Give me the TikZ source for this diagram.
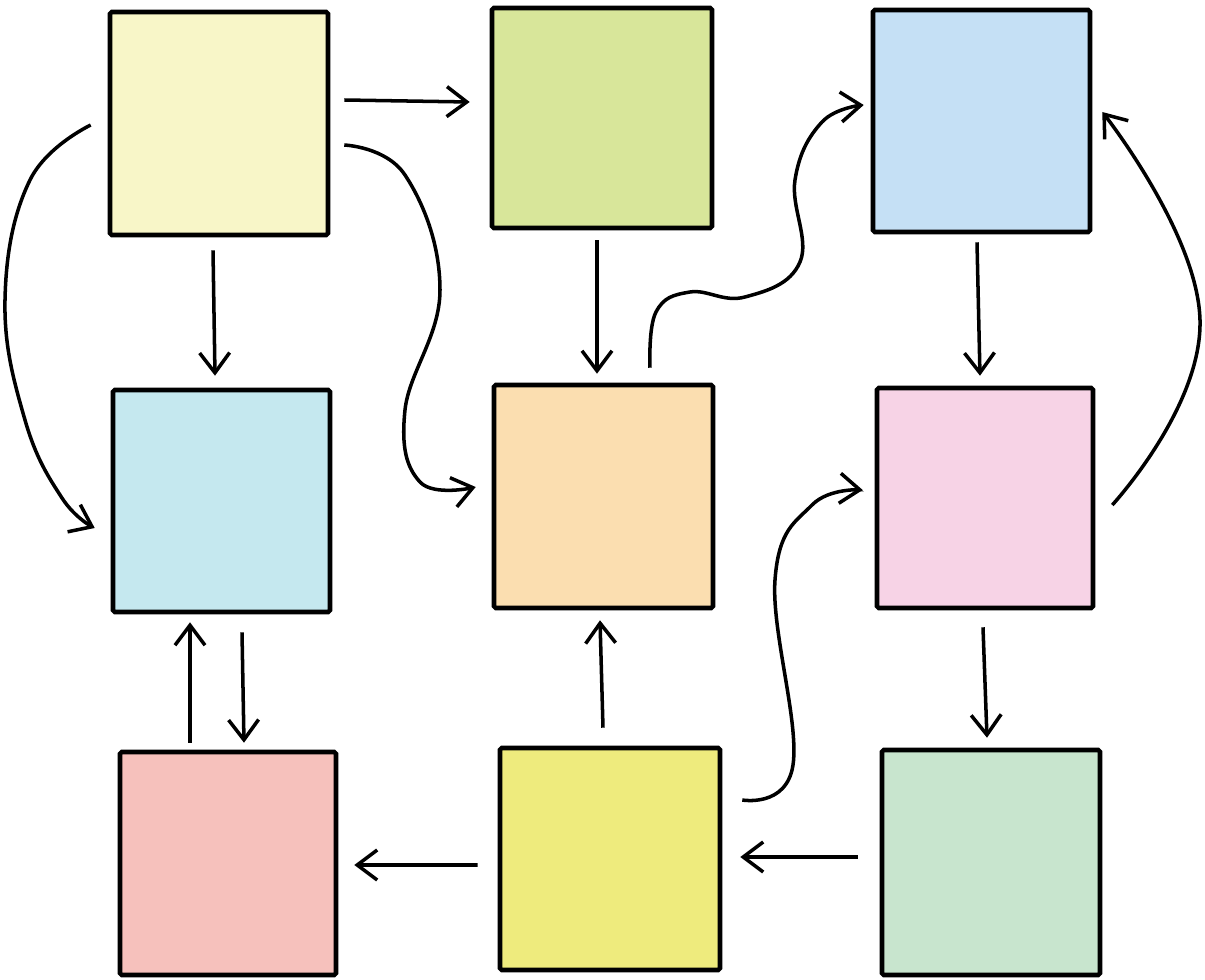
\documentclass[tikz,border=0pt]{standalone}
\usetikzlibrary{arrows.meta, calc}
\definecolor{paleyellow}{HTML}{F8F6C8}
\definecolor{palegreen}{HTML}{D8E69A}
\definecolor{paleblue}{HTML}{C5E0F5}
\definecolor{palecyan}{HTML}{C5E8EF}
\definecolor{paleorange}{HTML}{FBDEB0}
\definecolor{palepink}{HTML}{F7D3E6}
\definecolor{palered}{HTML}{F6C1BC}
\definecolor{lemon}{HTML}{EEEB7D}
\definecolor{sage}{HTML}{C8E5CE}
\tikzset{
    box/.style n args = {3}{draw=black, line width=2.6pt, fill=#1,
        minimum width=#2*0.02cm, minimum height=#3*0.02cm, inner sep=0pt,
        rounded corners=1pt},
    flow/.style = {-{Straight Barb[length=4mm,width=6mm]}, line width=2pt},
}
\begin{document}
\begin{tikzpicture}[x=0.02cm, y=-0.02cm]
        \useasboundingbox (0,0) rectangle (1205,980);
        % boxes
        \node [box={paleyellow}{218}{223}] (A) at (219,123.5) {};
        \node [box={palegreen}{220}{220}] (B) at (602,118) {};
        \node [box={paleblue}{217}{222}] (C) at (981.5,121) {};
        \node [box={palecyan}{217}{222}] (D) at (221.5,501) {};
        \node [box={paleorange}{219}{223}] (E) at (603.5,496.5) {};
        \node [box={palepink}{216}{220}] (F) at (985,498) {};
        \node [box={palered}{216}{223}] (G) at (228,863.5) {};
        \node [box={lemon}{220}{222}] (H) at (610,859) {};
        \node [box={sage}{218}{225}] (I) at (991,862.5) {};
        % straight arrows
        \draw [flow] ($(A.east)+(14,-23.5)$) -- ($(B.west)+(-20,-16)$);
        \draw [flow] ($(A.south)+(-6,13)$) -- ($(D.north)+(-6.5,-12)$);
        \draw [flow] ($(B.south)+(-5,10)$) -- ($(E.north)+(-6.5,-9)$);
        \draw [flow] ($(C.south)+(-4.5,8)$) -- ($(F.north)+(-5,-10)$);
        \draw [flow] ($(F.south)+(-2,17)$) -- ($(I.north)+(-4,-10)$);
        \draw [flow] ($(G.north)+(-38,-7)$) -- ($(D.south)+(-31.5,8)$);
        \draw [flow] ($(D.south)+(20.5,18)$) -- ($(G.north)+(16,-7)$);
        \draw [flow] ($(H.north)+(-7,-18)$) -- ($(E.south)+(-3.5,10)$);
        \draw [flow] ($(I.west)+(-22,-5.5)$) -- ($(H.east)+(18,-2)$);
        \draw [flow] ($(H.west)+(-20,6)$) -- ($(G.east)+(16,1.5)$);
        % curved arrows
        \draw [flow] plot [smooth, tension=0.7] coordinates {($(A.east)+(14,21.5)$) (405,175) (440,290) (405,410) (420,482) ($(E.west)+(-16,-9.5)$)};
        \draw [flow] plot [smooth, tension=0.7] coordinates {($(A.west)+(-17,1.5)$) (30,180) (5,300) (25,420) (62,498) ($(D.west)+(-16,27)$)};
        \draw [flow] plot [smooth, tension=0.7] coordinates {($(E.north)+(46.5,-15)$) (656,312) (690,292) (745,297) (800,262) (795,180) (822,122) ($(C.west)+(-7,-16)$)};
        \draw [flow] plot [smooth, tension=0.8] coordinates {($(F.east)+(17,7)$) (1200,320) ($(C.east)+(10,-9)$)};
        \draw [flow] plot [smooth, tension=0.7] coordinates {($(H.east)+(20,-59)$) (793,765) (775,580) (812,505) ($(F.west)+(-12,-8)$)};
\end{tikzpicture}
\end{document}
